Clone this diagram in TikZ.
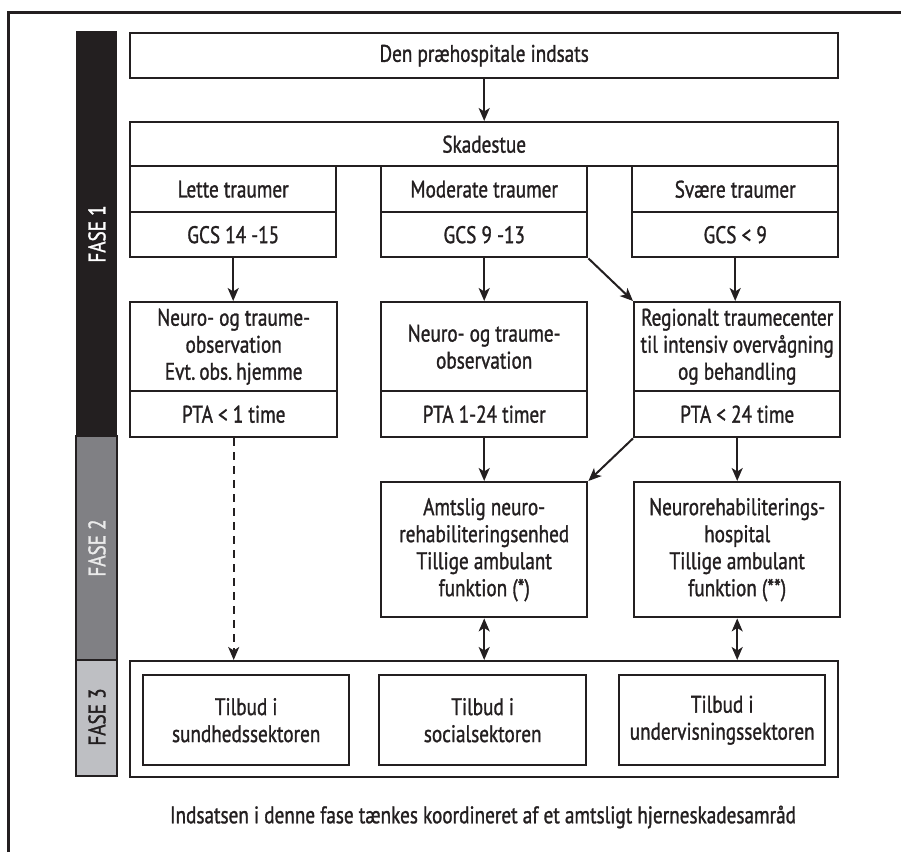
\documentclass[tikz,border=0pt]{standalone}
\usepackage{fontspec}
\setmainfont{PT Sans}[FakeStretch=0.8, RawFeature={embolden=1.2}]
\usetikzlibrary{arrows.meta}
\definecolor{fasetwo}{RGB}{128,128,132}
\definecolor{fasethree}{RGB}{190,191,195}
\definecolor{ink}{RGB}{35,31,32}
\begin{document}
\begin{tikzpicture}[x=1pt,y=-1pt,
  font=\fontsize{24}{27}\selectfont,
  box/.style={draw=ink, line width=2.4pt, inner sep=0pt, anchor=north west, align=center, text=ink},
  tip/.tip={Stealth[length=13pt,width=11pt,inset=3.5pt]},
  arr/.style={draw=ink, line width=2pt, -tip},
  darr/.style={draw=ink, line width=2pt, tip-tip},
  dash arr/.style={arr, dash pattern=on 8pt off 6pt},
  faselbl/.style={rotate=90, inner sep=0pt}]
\useasboundingbox (0,0) rectangle (901,852);
% outer frame
\draw[ink, line width=3pt] (8,852) -- (8,12) -- (901,12);
% phase bar
\fill[ink] (76,31) rectangle (117,436);
\draw[ink, line width=1.8pt, fill=fasetwo] (76,436) rectangle (117,660);
\draw[ink, line width=1.8pt, fill=fasethree] (76,660) rectangle (117,776);
\node[faselbl, text=white] (f1l) at (97,234) {FASE 1};
\node[faselbl, text=white!92!black] (f2l) at (97,548) {FASE 2};
\node[faselbl, text=ink] (f3l) at (97,717) {FASE 3};
% top
\node[box, minimum width=708pt, minimum height=45pt] (pre) at (129,32) {Den præhospitale indsats};
\node[box, minimum width=708pt, minimum height=44pt] (sk) at (129,121) {Skadestue};
% columns
\node[box, minimum width=206pt, minimum height=46pt] (lt) at (129,165) {Lette traumer};
\node[box, minimum width=206pt, minimum height=45pt] (lg) at (129,211) {GCS 14 -15};
\node[box, minimum width=206pt, minimum height=46pt] (mt) at (380,165) {Moderate traumer};
\node[box, minimum width=206pt, minimum height=45pt] (mg) at (380,211) {GCS 9 -13};
\node[box, minimum width=206pt, minimum height=46pt] (st) at (631,165) {Svære traumer};
\node[box, minimum width=206pt, minimum height=45pt] (sg) at (631,211) {GCS < 9};
% row 2
\node[box, minimum width=207pt, minimum height=89pt] (l2) at (129,301) {Neuro- og traume-\\observation\\Evt.\,obs.\,hjemme};
\node[box, minimum width=207pt, minimum height=46pt] (l2b) at (129,390) {PTA < 1 time};
\node[box, minimum width=206pt, minimum height=89pt] (m2) at (380,301) {Neuro- og traume-\\observation};
\node[box, minimum width=206pt, minimum height=46pt] (m2b) at (380,390) {PTA 1-24 timer};
\node[box, minimum width=206pt, minimum height=89pt] (r2) at (633,301) {Regionalt traumecenter\\til intensiv overvågning\\og behandling};
\node[box, minimum width=206pt, minimum height=46pt] (r2b) at (633,390) {PTA < 24 time};
% row 3
\node[box, minimum width=206pt, minimum height=135pt] (m3) at (380,481) {Amtslig neuro-\\rehabiliteringsenhed\\Tillige ambulant\\funktion (*)};
\node[box, minimum width=206pt, minimum height=135pt] (r3) at (633,481) {Neurorehabiliterings-\\hospital\\Tillige ambulant\\funktion (**)};
% fase 3
\node[box, minimum width=708pt, minimum height=116pt] (f3) at (129,660) {};
\node[box, minimum width=206pt, minimum height=90pt] (s1) at (142,674) {Tilbud i\\sundhedssektoren};
\node[box, minimum width=207pt, minimum height=90pt] (s2) at (378,674) {Tilbud i\\socialsektoren};
\node[box, minimum width=206pt, minimum height=90pt] (s3) at (618,674) {Tilbud i\\undervisningssektoren};
\node[text=ink, inner sep=0pt] (note) at (483,817) {Indsatsen i denne fase tænkes koordineret af et amtsligt hjerneskadesamråd};
% connectors
\draw[arr] (pre.south) -- (sk.north);
\draw[arr] (lg.south) -- (lg.south |- l2.north);
\draw[arr] (mg.south) -- (mg.south |- m2.north);
\draw[arr] (mg.south east) -- (r2.north west);
\draw[arr] (sg.south) -- (sg.south |- r2.north);
\draw[arr] (m2b.south) -- (m3.north);
\draw[arr] (r2b.south west) -- (m3.north east);
\draw[arr] (r2b.south) -- (r3.north);
\draw[dash arr] (l2b.south) -- (l2b.south |- f3.north);
\draw[darr] (m3.south) -- (m3.south |- f3.north);
\draw[darr] (r3.south) -- (r3.south |- f3.north);
\end{tikzpicture}
\end{document}
